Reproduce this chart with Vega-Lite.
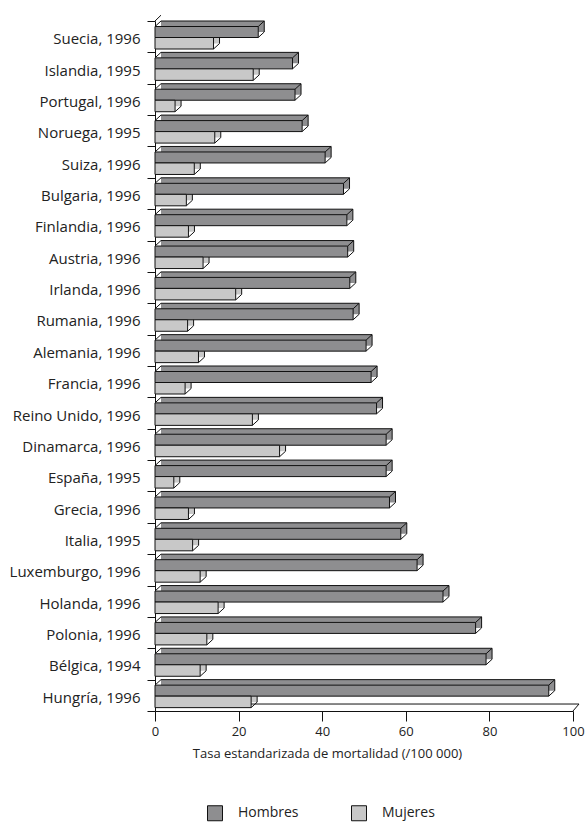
{
  "$schema": "https://vega.github.io/schema/vega-lite/v6.json",
  "width": 418,
  "height": 690,
  "padding": {"left": 5, "top": 14, "right": 10, "bottom": 5},
  "background": "white",
  "config": {
    "view": {"stroke": null},
    "font": "Open Sans",
    "axis": {"labelFont": "Open Sans", "titleFont": "Open Sans", "labelColor": "#222", "titleColor": "#222", "domainColor": "#111", "tickColor": "#111", "grid": false},
    "legend": {"labelFont": "Open Sans"}
  },
  "datasets": {
    "tasas": [
      {"pais": "Suecia, 1996", "sexo": "Hombres", "tasa": 24.7},
      {"pais": "Suecia, 1996", "sexo": "Mujeres", "tasa": 14.0},
      {"pais": "Islandia, 1995", "sexo": "Hombres", "tasa": 32.9},
      {"pais": "Islandia, 1995", "sexo": "Mujeres", "tasa": 23.5},
      {"pais": "Portugal, 1996", "sexo": "Hombres", "tasa": 33.5},
      {"pais": "Portugal, 1996", "sexo": "Mujeres", "tasa": 4.8},
      {"pais": "Noruega, 1995", "sexo": "Hombres", "tasa": 35.2},
      {"pais": "Noruega, 1995", "sexo": "Mujeres", "tasa": 14.3},
      {"pais": "Suiza, 1996", "sexo": "Hombres", "tasa": 40.7},
      {"pais": "Suiza, 1996", "sexo": "Mujeres", "tasa": 9.4},
      {"pais": "Bulgaria, 1996", "sexo": "Hombres", "tasa": 45.1},
      {"pais": "Bulgaria, 1996", "sexo": "Mujeres", "tasa": 7.5},
      {"pais": "Finlandia, 1996", "sexo": "Hombres", "tasa": 45.9},
      {"pais": "Finlandia, 1996", "sexo": "Mujeres", "tasa": 8.0},
      {"pais": "Austria, 1996", "sexo": "Hombres", "tasa": 46.1},
      {"pais": "Austria, 1996", "sexo": "Mujeres", "tasa": 11.5},
      {"pais": "Irlanda, 1996", "sexo": "Hombres", "tasa": 46.6},
      {"pais": "Irlanda, 1996", "sexo": "Mujeres", "tasa": 19.3},
      {"pais": "Rumania, 1996", "sexo": "Hombres", "tasa": 47.4},
      {"pais": "Rumania, 1996", "sexo": "Mujeres", "tasa": 7.8},
      {"pais": "Alemania, 1996", "sexo": "Hombres", "tasa": 50.5},
      {"pais": "Alemania, 1996", "sexo": "Mujeres", "tasa": 10.4},
      {"pais": "Francia, 1996", "sexo": "Hombres", "tasa": 51.7},
      {"pais": "Francia, 1996", "sexo": "Mujeres", "tasa": 7.2},
      {"pais": "Reino Unido, 1996", "sexo": "Hombres", "tasa": 53.0},
      {"pais": "Reino Unido, 1996", "sexo": "Mujeres", "tasa": 23.3},
      {"pais": "Dinamarca, 1996", "sexo": "Hombres", "tasa": 55.3},
      {"pais": "Dinamarca, 1996", "sexo": "Mujeres", "tasa": 29.8},
      {"pais": "España, 1995", "sexo": "Hombres", "tasa": 55.3},
      {"pais": "España, 1995", "sexo": "Mujeres", "tasa": 4.5},
      {"pais": "Grecia, 1996", "sexo": "Hombres", "tasa": 56.1},
      {"pais": "Grecia, 1996", "sexo": "Mujeres", "tasa": 8.0},
      {"pais": "Italia, 1995", "sexo": "Hombres", "tasa": 58.8},
      {"pais": "Italia, 1995", "sexo": "Mujeres", "tasa": 9.0},
      {"pais": "Luxemburgo, 1996", "sexo": "Hombres", "tasa": 62.7},
      {"pais": "Luxemburgo, 1996", "sexo": "Mujeres", "tasa": 10.8},
      {"pais": "Holanda, 1996", "sexo": "Hombres", "tasa": 68.9},
      {"pais": "Holanda, 1996", "sexo": "Mujeres", "tasa": 15.1},
      {"pais": "Polonia, 1996", "sexo": "Hombres", "tasa": 76.7},
      {"pais": "Polonia, 1996", "sexo": "Mujeres", "tasa": 12.4},
      {"pais": "Bélgica, 1994", "sexo": "Hombres", "tasa": 79.2},
      {"pais": "Bélgica, 1994", "sexo": "Mujeres", "tasa": 10.8},
      {"pais": "Hungría, 1996", "sexo": "Hombres", "tasa": 94.2},
      {"pais": "Hungría, 1996", "sexo": "Mujeres", "tasa": 23.0}
    ],
    "suelo": [{"desde": 0, "hasta": 100, "pais": "Hungría, 1996"}],
    "pared": [{"pais": "Suecia, 1996"}]
  },
  "layer": [
    {
      "data": {"name": "suelo"},
      "mark": {"type": "rule", "xOffset": 6, "x2Offset": 6, "yOffset": 8.7, "color": "#111"},
      "encoding": {
        "x": {"field": "desde", "type": "quantitative", "scale": {"domain": [0, 100]}},
        "x2": {"field": "hasta"},
        "y": {"field": "pais", "type": "nominal",
              "scale": {"domain": ["Suecia, 1996", "Islandia, 1995", "Portugal, 1996", "Noruega, 1995", "Suiza, 1996", "Bulgaria, 1996", "Finlandia, 1996", "Austria, 1996", "Irlanda, 1996", "Rumania, 1996", "Alemania, 1996", "Francia, 1996", "Reino Unido, 1996", "Dinamarca, 1996", "España, 1995", "Grecia, 1996", "Italia, 1995", "Luxemburgo, 1996", "Holanda, 1996", "Polonia, 1996", "Bélgica, 1994", "Hungría, 1996"], "paddingInner": 0, "paddingOuter": 0},
              "axis": {"title": null, "tickBand": "extent", "tickSize": 8, "labelPadding": 7, "labelFontSize": 15, "minExtent": 150, "maxExtent": 150, "labelOffset": 2}}
      }
    },
    {
      "data": {"name": "suelo"},
      "mark": {"type": "rule", "x2Offset": 6, "yOffset": 15.68, "y2Offset": 8.7, "color": "#111"},
      "encoding": {
        "x": {"field": "hasta", "type": "quantitative"},
        "x2": {"field": "hasta"},
        "y": {"field": "pais", "type": "nominal"},
        "y2": {"field": "pais"}
      }
    },
    {
      "data": {"name": "pared"},
      "mark": {"type": "rule", "x2Offset": 6, "yOffset": -15.68, "y2Offset": -21.5, "color": "#111"},
      "encoding": {
        "x": {"value": 0},
        "x2": {"value": 0},
        "y": {"field": "pais", "type": "nominal"},
        "y2": {"field": "pais"}
      }
    },
    {
      "data": {"name": "tasas"},
      "transform": [{"filter": "datum.sexo === 'Hombres'"}],
      "mark": {"type": "bar", "height": 11, "xOffset": 6, "yOffset": -10.18, "strokeWidth": 0},
      "encoding": {
        "y": {"field": "pais", "type": "nominal"},
        "x": {"field": "tasa", "type": "quantitative",
              "axis": {"title": "Tasa estandarizada de mortalidad (/100 000)", "values": [0, 20, 40, 60, 80, 100], "tickSize": 10, "labelPadding": 4, "labelFontSize": 13, "titleFontSize": 13, "titleFontWeight": "normal", "titlePadding": 9, "titleX": 172, "titleAlign": "center", "labelFlush": false}},
        "color": {"field": "sexo", "type": "nominal", "scale": {"domain": ["Hombres", "Mujeres"], "range": ["#8e8e90", "#c8c8c8"]},
                  "legend": {"title": null, "orient": "none", "legendX": 52, "legendY": 784, "direction": "horizontal", "symbolType": "square", "symbolSize": 225, "symbolStrokeColor": "#111", "symbolStrokeWidth": 1, "symbolOpacity": 1, "labelFontSize": 14, "labelOffset": 15, "columnPadding": 50, "labelColor": "#222"}}
      }
    },
    {
      "data": {"name": "tasas"},
      "transform": [{"filter": "datum.sexo === 'Mujeres'"}],
      "mark": {"type": "bar", "height": 11.5, "xOffset": 6, "yOffset": 1.07, "strokeWidth": 0},
      "encoding": {
        "y": {"field": "pais", "type": "nominal"},
        "x": {"field": "tasa", "type": "quantitative"},
        "color": {"field": "sexo", "type": "nominal"}
      }
    },
    {
      "data": {"name": "tasas"},
      "transform": [{"filter": "datum.sexo === 'Hombres'"}],
      "mark": {"type": "rule", "xOffset": 6, "x2Offset": 6, "yOffset": -15.68, "color": "#111"},
      "encoding": {
        "x": {"field": "tasa", "type": "quantitative"},
        "x2": {"value": 0},
        "y": {"field": "pais", "type": "nominal"}
      }
    },
    {
      "data": {"name": "tasas"},
      "transform": [{"filter": "datum.sexo === 'Hombres'"}],
      "mark": {"type": "rule", "xOffset": 6, "yOffset": -15.68, "y2Offset": -4.68, "color": "#111"},
      "encoding": {
        "x": {"field": "tasa", "type": "quantitative"},
        "y": {"field": "pais", "type": "nominal"},
        "y2": {"field": "pais"}
      }
    },
    {
      "data": {"name": "tasas"},
      "transform": [{"filter": "datum.sexo === 'Hombres'"}],
      "mark": {"type": "rule", "x2Offset": 6, "yOffset": -10.18, "y2Offset": -15.68, "color": "#111"},
      "encoding": {
        "x": {"value": 0},
        "x2": {"value": 0},
        "y": {"field": "pais", "type": "nominal"},
        "y2": {"field": "pais"}
      }
    },
    {
      "data": {"name": "tasas"},
      "transform": [{"filter": "datum.sexo === 'Hombres'"}],
      "mark": {"type": "rule", "x2Offset": 6, "yOffset": -10.18, "y2Offset": -15.68, "color": "#111"},
      "encoding": {
        "x": {"field": "tasa", "type": "quantitative"},
        "x2": {"field": "tasa"},
        "y": {"field": "pais", "type": "nominal"},
        "y2": {"field": "pais"}
      }
    },
    {
      "data": {"name": "tasas"},
      "transform": [{"filter": "datum.sexo === 'Hombres'"}],
      "mark": {"type": "rule", "x2Offset": 6, "yOffset": 0.82, "y2Offset": -4.68, "color": "#111"},
      "encoding": {
        "x": {"field": "tasa", "type": "quantitative"},
        "x2": {"field": "tasa"},
        "y": {"field": "pais", "type": "nominal"},
        "y2": {"field": "pais"}
      }
    },
    {
      "data": {"name": "tasas"},
      "transform": [{"filter": "datum.sexo === 'Mujeres'"}],
      "mark": {"type": "rule", "xOffset": 6, "yOffset": -4.68, "y2Offset": 6.82, "color": "#111"},
      "encoding": {
        "x": {"field": "tasa", "type": "quantitative"},
        "y": {"field": "pais", "type": "nominal"},
        "y2": {"field": "pais"}
      }
    },
    {
      "data": {"name": "tasas"},
      "transform": [{"filter": "datum.sexo === 'Mujeres'"}],
      "mark": {"type": "rule", "x2Offset": 6, "yOffset": 12.32, "y2Offset": 6.82, "color": "#111"},
      "encoding": {
        "x": {"field": "tasa", "type": "quantitative"},
        "x2": {"field": "tasa"},
        "y": {"field": "pais", "type": "nominal"},
        "y2": {"field": "pais"}
      }
    },
    {
      "data": {"name": "tasas"},
      "transform": [{"filter": "datum.sexo === 'Hombres'"}],
      "mark": {"type": "bar", "height": 11, "yOffset": -4.68, "stroke": "#111", "strokeWidth": 1},
      "encoding": {
        "y": {"field": "pais", "type": "nominal"},
        "x": {"field": "tasa", "type": "quantitative"},
        "color": {"field": "sexo", "type": "nominal"}
      }
    },
    {
      "data": {"name": "tasas"},
      "transform": [{"filter": "datum.sexo === 'Mujeres'"}],
      "mark": {"type": "bar", "height": 11.5, "yOffset": 6.57, "stroke": "#111", "strokeWidth": 1},
      "encoding": {
        "y": {"field": "pais", "type": "nominal"},
        "x": {"field": "tasa", "type": "quantitative"},
        "color": {"field": "sexo", "type": "nominal"}
      }
    }
  ]
}
